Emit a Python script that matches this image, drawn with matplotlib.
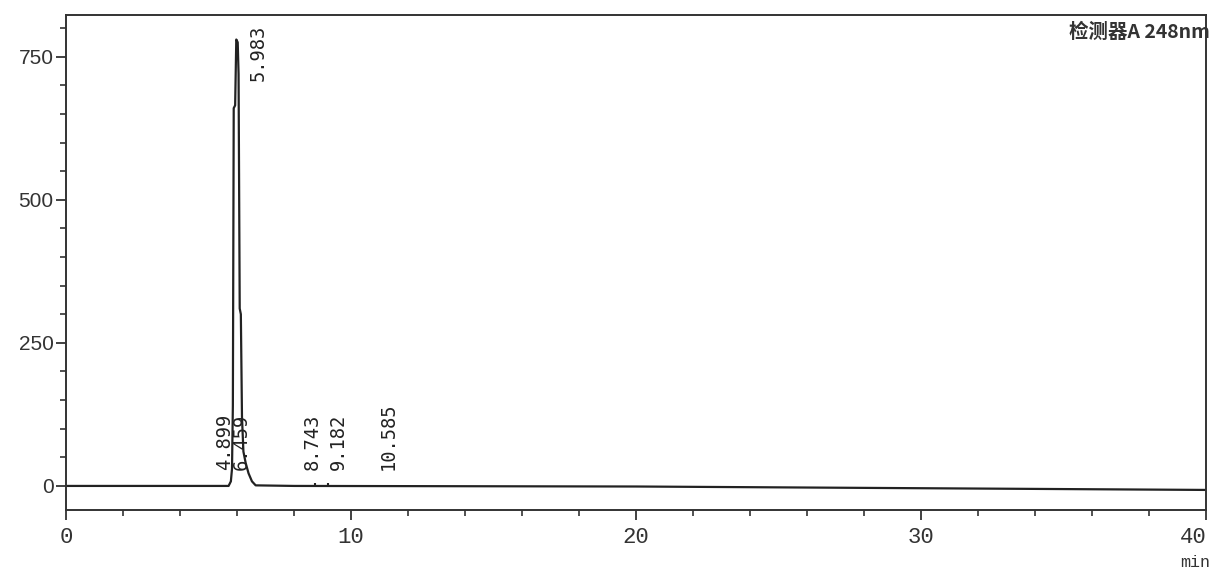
import matplotlib.pyplot as plt
from matplotlib.ticker import MultipleLocator

plt.rcParams['font.family'] = ['DejaVu Sans', 'Noto Sans CJK SC']

# chromatogram trace (min, mAU)
time = [0, 5.70, 5.78, 5.82, 5.85, 5.88, 5.93, 5.97, 6.02, 6.05, 6.09, 6.13, 6.17, 6.22, 6.30, 6.40, 6.52, 6.65, 8.0, 20, 30, 40]
signal = [0, 0, 8, 30, 140, 660, 665, 780, 775, 720, 310, 300, 120, 60, 40, 22, 8, 1, 0, -1, -4, -7]

# retention time labels
rt_labels = ['4.899', '5.983', '6.459', '8.743', '9.182', '10.585']
rt_xpos = [5.55, 6.75, 6.15, 8.65, 9.55, 11.3]
rt_marks = [8.743, 9.182]

fig = plt.figure(figsize=(12.13, 5.73), dpi=100)
ax = fig.add_axes([0.0545, 0.110, 0.940, 0.864])

ax.plot(time, signal, color='#222222', lw=1.6)
ax.vlines(rt_marks, 0, 5, color='#222222', lw=1.5)

mono = 'DejaVu Sans Mono'
for lab, x in zip(rt_labels, rt_xpos):
    if lab == '5.983':
        ax.text(x, 805, lab, rotation=90, ha='center', va='top', fontsize=13.5,
                family=mono, color='#222222')
    else:
        ax.text(x, 28, lab, rotation=90, ha='center', va='bottom', fontsize=13.5,
                family=mono, color='#222222')

ax.text(1.003, 0.985, '检测器A 248nm', transform=ax.transAxes, ha='right', va='top',
        fontsize=14, family=['Noto Sans CJK SC', 'DejaVu Serif'],
        fontweight='bold', color='#333333')

ax.set_xlim(0, 40)
ax.set_ylim(-42, 823)
ax.set_xticks([0, 10, 20, 30, 40])
ax.set_yticks([0, 250, 500, 750])
ax.xaxis.set_minor_locator(MultipleLocator(2))
ax.yaxis.set_minor_locator(MultipleLocator(50))
ax.tick_params(axis='both', which='major', length=7, width=1.3, color='#333333')
ax.tick_params(axis='both', which='minor', length=4, width=1.2, color='#333333')
ax.tick_params(axis='x', labelsize=16, pad=5)
ax.tick_params(axis='y', labelsize=15, pad=2, labelcolor='#333333')
for t in ax.get_yticklabels():
    t.set_family(['Liberation Sans', 'DejaVu Sans'])
for t in ax.get_xticklabels():
    t.set_family(['Liberation Mono', 'DejaVu Sans Mono'])
    t.set_color('#333333')
ax.get_xticklabels()[-1].set_horizontalalignment('right')

for s in ax.spines.values():
    s.set_linewidth(1.4)
    s.set_color('#333333')

ax.text(1.003, -0.09, 'min', transform=ax.transAxes, ha='right', va='top', fontsize=12,
        family=['Liberation Mono', 'DejaVu Sans Mono'], color='#333333')

fig.savefig('out.png', dpi=100)
